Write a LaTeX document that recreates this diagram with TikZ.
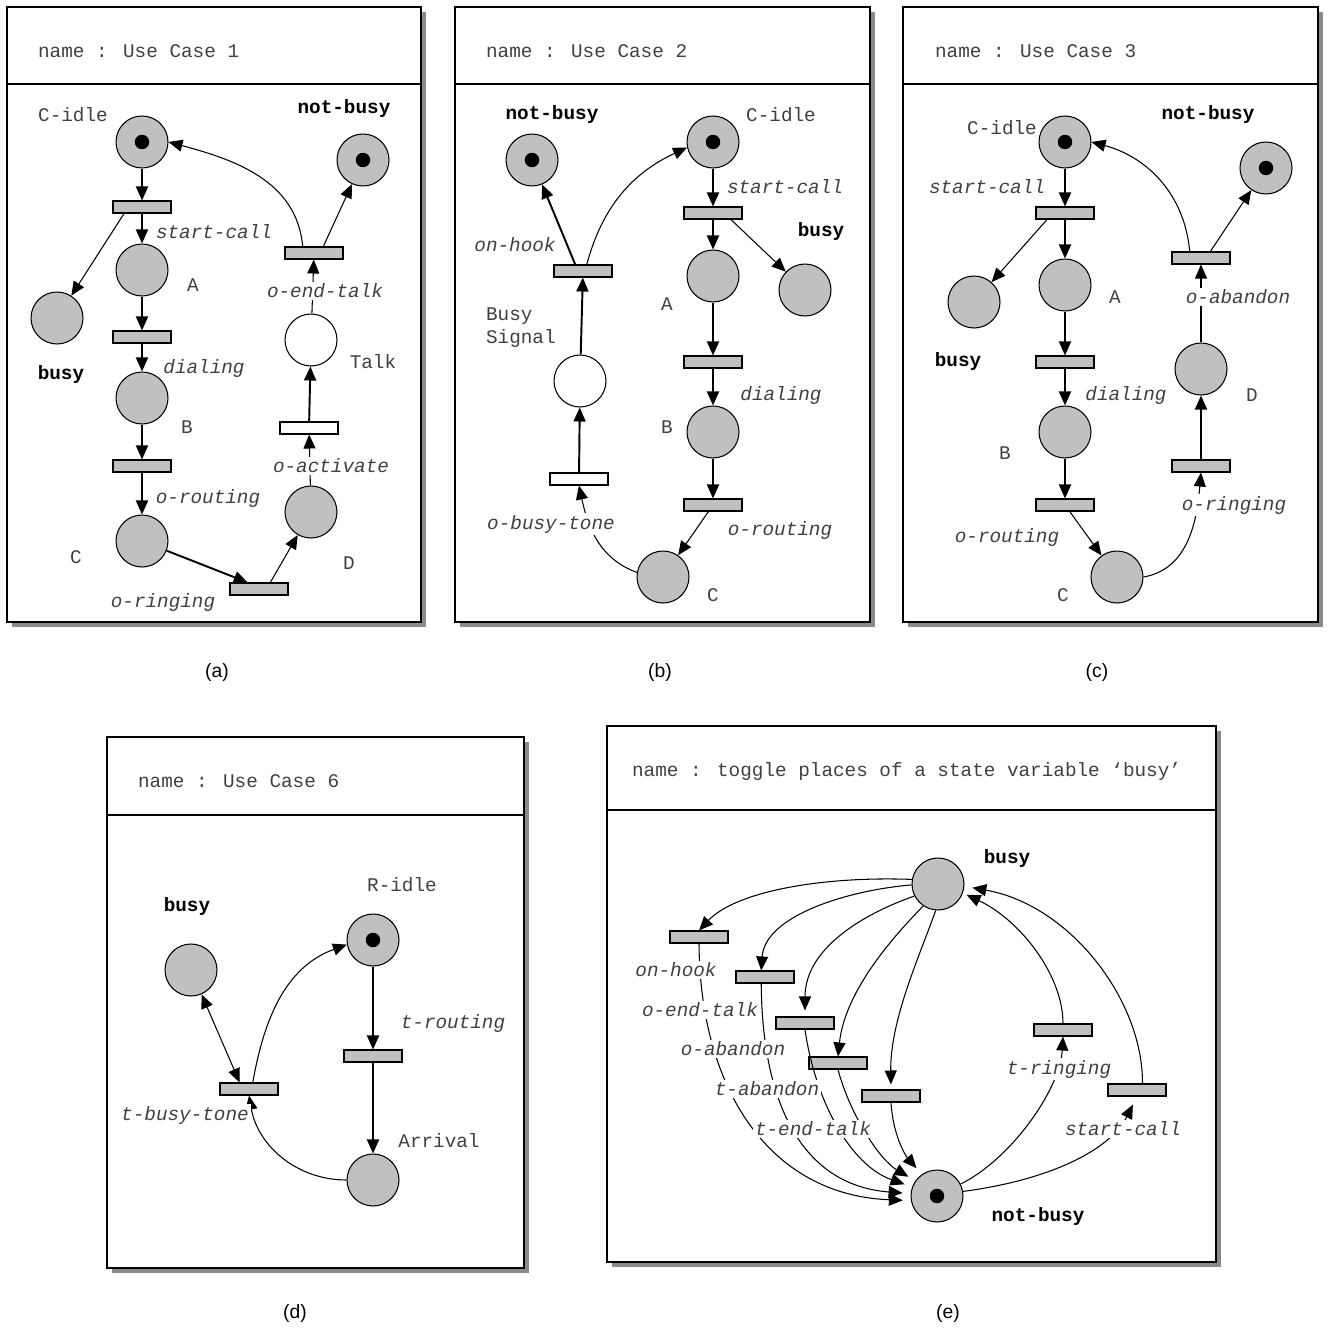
\documentclass[tikz,border=0pt]{standalone}
\usepackage{fontspec}
\setmainfont{Liberation Mono}
\newfontfamily\capfont{Liberation Sans}
\usetikzlibrary{arrows.meta, positioning}
\definecolor{placefill}{HTML}{C0C0C0}
\definecolor{shadowcolor}{HTML}{8A8A8A}
\definecolor{labelcolor}{HTML}{404040}

\begin{document}
\begin{tikzpicture}[
    x=0.02cm, y=-0.02cm,
    >={Triangle[length=2.8mm, width=2.4mm]},
    font=\fontsize{11}{13}\selectfont,
    place/.style={circle, draw=black, line width=0.6pt, fill=placefill, minimum size=10.4mm, inner sep=0pt},
    emptyplace/.style={place, fill=white},
    marked/.style={place, path picture={\fill[black] (path picture bounding box.center) circle (1.45mm);}},
    trans/.style={rectangle, draw=black, line width=0.6pt, fill=placefill, minimum width=11.6mm, minimum height=2.4mm, inner sep=0pt},
    emptytrans/.style={trans, fill=white},
    link/.style={->, line width=0.6pt},
    boldlink/.style={->, line width=1.1pt},
    txt/.style={text=labelcolor, inner sep=1pt},
    lbl/.style={fill=white, text=labelcolor, inner sep=1pt, font=\fontsize{11}{13}\selectfont\itshape},
    heavy/.style={text=black, inner sep=1pt, font=\fontsize{11}{13}\selectfont\bfseries},
    panel/.style={draw=black, line width=1.3pt, fill=white},
    caption/.style={font=\capfont\fontsize{11}{13}\selectfont}
]
    \useasboundingbox (0,0) rectangle (1329,1328);

    % (a) Use Case 1
    \fill[shadowcolor] (12,12) rectangle (426,627);
    \draw[panel] (7,7) rectangle (421,622);
    \draw[line width=1.3pt] (7,84) -- (421,84);
    \node[txt, anchor=west] (aTitle) at (36,51) {name : Use Case 1};

    \node[marked] (aCidle) at (142,142) {};
    \node[marked] (aNotbusy) at (363,160) {};
    \node[trans] (aStart) at (142,207) {};
    \node[place] (aBusy) at (57,318) {};
    \node[place] (aA) at (142,270) {};
    \node[trans] (aDial) at (142,337) {};
    \node[place] (aB) at (142,398) {};
    \node[trans] (aRoute) at (142,466) {};
    \node[place] (aC) at (142,541) {};
    \node[trans] (aRing) at (259,589) {};
    \node[place] (aD) at (311,512) {};
    \node[emptytrans] (aActivate) at (309,428) {};
    \node[emptyplace] (aTalk) at (311,340) {};
    \node[trans] (aEnd) at (314,253) {};

    \draw[boldlink] (aCidle) -- (aStart);
    \draw[boldlink] (aStart) -- (aA);
    \draw[link] (aStart.200) -- (aBusy);
    \draw[boldlink] (aA) -- (aDial);
    \draw[boldlink] (aDial) -- (aB);
    \draw[boldlink] (aB) -- (aRoute);
    \draw[boldlink] (aRoute) -- (aC);
    \draw[boldlink] (aC) -- (aRing.150);
    \draw[link] (aRing.30) -- (aD);
    \draw[link] (aD) -- (aActivate);
    \draw[boldlink] (aActivate) -- (aTalk);
    \draw[link] (aTalk) -- (aEnd);
    \draw[link] (aEnd.150) to[out=95, in=-15] (aCidle.0);
    \draw[link] (aEnd.35) -- (aNotbusy);

    \node[txt] (aCidleLbl) at (73,115) {C-idle};
    \node[heavy] (aNotbusyLbl) at (344,109) {not-busy};
    \node[lbl] (aStartLbl) at (214,232) {start-call};
    \node[txt] (aALbl) at (193,285) {A};
    \node[heavy] (aBusyLbl) at (61,375) {busy};
    \node[lbl] (aDialLbl) at (204,368) {dialing};
    \node[txt] (aBLbl) at (187,427) {B};
    \node[lbl] (aRouteLbl) at (208,498) {o-routing};
    \node[txt] (aCLbl) at (76,557) {C};
    \node[lbl] (aRingLbl) at (163,602) {o-ringing};
    \node[txt] (aDLbl) at (349,563) {D};
    \node[lbl] (aActivateLbl) at (331,466) {o-activate};
    \node[txt] (aTalkLbl) at (373,362) {Talk};
    \node[lbl] (aEndLbl) at (325,291) {o-end-talk};
    \node[caption] (aCap) at (217,672) {(a)};

    % (b) Use Case 2
    \fill[shadowcolor] (460,12) rectangle (875,627);
    \draw[panel] (455,7) rectangle (870,622);
    \draw[line width=1.3pt] (455,84) -- (870,84);
    \node[txt, anchor=west] (bTitle) at (484,51) {name : Use Case 2};

    \node[marked] (bNotbusy) at (532,160) {};
    \node[marked] (bCidle) at (713,142) {};
    \node[trans] (bStart) at (713,213) {};
    \node[place] (bBusy) at (805,290) {};
    \node[place] (bA) at (713,276) {};
    \node[trans] (bDial) at (713,362) {};
    \node[place] (bB) at (713,432) {};
    \node[trans] (bRoute) at (713,505) {};
    \node[place] (bC) at (663,577) {};
    \node[trans] (bHook) at (583,271) {};
    \node[emptyplace] (bSignal) at (580,381) {};
    \node[emptytrans] (bTone) at (579,479) {};

    \draw[boldlink] (bCidle) -- (bStart);
    \draw[boldlink] (bStart) -- (bA);
    \draw[link] (bStart.-20) -- (bBusy);
    \draw[boldlink] (bA) -- (bDial);
    \draw[boldlink] (bDial) -- (bB);
    \draw[boldlink] (bB) -- (bRoute);
    \draw[link] (bRoute) -- (bC);
    \draw[link] (bC.170) to[out=160, in=-78] (bTone.south);
    \draw[boldlink] (bTone) -- (bSignal);
    \draw[boldlink] (bSignal) -- (bHook);
    \draw[boldlink] (bHook.140) -- (bNotbusy);
    \draw[link] (bHook.60) to[out=75, in=205] (bCidle.192);

    \node[heavy] (bNotbusyLbl) at (552,115) {not-busy};
    \node[txt] (bCidleLbl) at (781,115) {C-idle};
    \node[lbl] (bStartLbl) at (785,187) {start-call};
    \node[heavy] (bBusyLbl) at (821,232) {busy};
    \node[lbl] (bHookLbl) at (515,245) {on-hook};
    \node[txt] (bALbl) at (667,304) {A};
    \node[txt, align=left, anchor=west] (bSignalLbl) at (484,328) {Busy\\Signal};
    \node[lbl] (bDialLbl) at (781,395) {dialing};
    \node[txt] (bBLbl) at (667,427) {B};
    \node[lbl] (bRouteLbl) at (780,530) {o-routing};
    \node[lbl] (bToneLbl) at (551,524) {o-busy-tone};
    \node[txt] (bCLbl) at (713,595) {C};
    \node[caption] (bCap) at (660,672) {(b)};

    % (c) Use Case 3
    \fill[shadowcolor] (908,12) rectangle (1323,627);
    \draw[panel] (903,7) rectangle (1318,622);
    \draw[line width=1.3pt] (903,84) -- (1318,84);
    \node[txt, anchor=west] (cTitle) at (933,51) {name : Use Case 3};

    \node[marked] (cCidle) at (1065,142) {};
    \node[marked] (cNotbusy) at (1266,168) {};
    \node[trans] (cStart) at (1065,213) {};
    \node[place] (cBusy) at (974,302) {};
    \node[place] (cA) at (1065,285) {};
    \node[trans] (cDial) at (1065,362) {};
    \node[place] (cB) at (1065,432) {};
    \node[trans] (cRoute) at (1065,505) {};
    \node[place] (cC) at (1117,577) {};
    \node[trans] (cRing) at (1201,466) {};
    \node[place] (cD) at (1201,369) {};
    \node[trans] (cAbandon) at (1201,258) {};

    \draw[boldlink] (cCidle) -- (cStart);
    \draw[boldlink] (cStart) -- (cA);
    \draw[link] (cStart.200) -- (cBusy);
    \draw[boldlink] (cA) -- (cDial);
    \draw[boldlink] (cDial) -- (cB);
    \draw[boldlink] (cB) -- (cRoute);
    \draw[link] (cRoute) -- (cC);
    \draw[link] (cC.east) to[out=10, in=-95] (cRing.south);
    \draw[boldlink] (cRing) -- (cD);
    \draw[link] (cD) -- (cAbandon);
    \draw[link] (cAbandon.150) to[out=95, in=-15] (cCidle.0);
    \draw[link] (cAbandon.35) -- (cNotbusy);

    \node[txt] (cCidleLbl) at (1002,128) {C-idle};
    \node[heavy] (cNotbusyLbl) at (1208,115) {not-busy};
    \node[lbl] (cStartLbl) at (987,187) {start-call};
    \node[txt] (cALbl) at (1115,297) {A};
    \node[heavy] (cBusyLbl) at (958,362) {busy};
    \node[lbl] (cDialLbl) at (1126,395) {dialing};
    \node[txt] (cBLbl) at (1005,453) {B};
    \node[lbl] (cRouteLbl) at (1007,537) {o-routing};
    \node[txt] (cCLbl) at (1063,595) {C};
    \node[lbl] (cRingLbl) at (1234,505) {o-ringing};
    \node[txt] (cDLbl) at (1252,395) {D};
    \node[lbl] (cAbandonLbl) at (1238,297) {o-abandon};
    \node[caption] (cCap) at (1097,672) {(c)};

    % (d) Use Case 6
    \fill[shadowcolor] (112,742) rectangle (529,1273);
    \draw[panel] (107,737) rectangle (524,1268);
    \draw[line width=1.3pt] (107,815) -- (524,815);
    \node[txt, anchor=west] (dTitle) at (136,781) {name : Use Case 6};

    \node[place] (dBusy) at (191,970) {};
    \node[marked] (dRidle) at (373,940) {};
    \node[trans] (dRoute) at (373,1056) {};
    \node[place] (dArrival) at (373,1180) {};
    \node[trans] (dTone) at (249,1089) {};

    \draw[link, <->] (dBusy) -- (dTone.145);
    \draw[link] (dTone.60) to[out=80, in=200] (dRidle.190);
    \draw[boldlink] (dRidle) -- (dRoute);
    \draw[boldlink] (dRoute) -- (dArrival);
    \draw[link] (dArrival.west) to[out=180, in=-80] (dTone.south);

    \node[heavy] (dBusyLbl) at (187,906) {busy};
    \node[txt] (dRidleLbl) at (402,885) {R-idle};
    \node[lbl] (dRouteLbl) at (453,1023) {t-routing};
    \node[txt] (dArrivalLbl) at (439,1141) {Arrival};
    \node[lbl] (dToneLbl) at (185,1115) {t-busy-tone};
    \node[caption] (dCap) at (295,1313) {(d)};

    % (e) toggle places of 'busy'
    \fill[shadowcolor] (612,731) rectangle (1221,1267);
    \draw[panel] (607,726) rectangle (1216,1262);
    \draw[line width=1.3pt] (607,810) -- (1216,810);
    \node[txt, anchor=west] (eTitle) at (630,771) {name : toggle places of a state variable ‘busy’};

    \node[place] (eBusy) at (938,884) {};
    \node[marked] (eNotbusy) at (937,1196) {};
    \node[trans] (eHook) at (699,937) {};
    \node[trans] (eEndTalk) at (765,977) {};
    \node[trans] (eOAbandon) at (805,1023) {};
    \node[trans] (eTAbandon) at (838,1063) {};
    \node[trans] (eTEnd) at (891,1096) {};
    \node[trans] (eRing) at (1063,1030) {};
    \node[trans] (eStart) at (1137,1090) {};

    % busy -> outgoing transitions
    \draw[link] (eBusy.170) .. controls (820,876) and (735,892) .. (eHook.north);
    \draw[link] (eBusy.182) .. controls (850,890) and (765,915) .. (eEndTalk.120);
    \draw[link, shorten >=1.2mm] (eBusy.207) .. controls (860,915) and (805,950) .. (eOAbandon.north);
    \draw[link] (eBusy.236) .. controls (895,935) and (845,990) .. (eTAbandon.north);
    \draw[link, shorten >=1mm] (eBusy.265) .. controls (920,955) and (890,1020) .. (eTEnd.north);

    % transitions -> not-busy
    \draw[link, shorten >=1.6mm] (eHook.south) .. controls (700,1090) and (770,1195) .. (eNotbusy.190);
    \draw[link, shorten >=1.6mm] (eEndTalk.240) .. controls (762,1100) and (800,1185) .. (eNotbusy.175);
    \draw[link, shorten >=1.6mm] (eOAbandon.south) .. controls (815,1100) and (850,1165) .. (eNotbusy.160);
    \draw[link, shorten >=1.6mm] (eTAbandon.south) .. controls (850,1115) and (880,1160) .. (eNotbusy.145);
    \draw[link, shorten >=1.6mm] (eTEnd.south) .. controls (893,1135) and (905,1155) .. (eNotbusy.125);

    % not-busy -> busy
    \draw[link] (eNotbusy.27) .. controls (1010,1160) and (1060,1090) .. (eRing.south);
    \draw[link, shorten >=0.8mm] (eRing.north) .. controls (1063,975) and (1020,920) .. (eBusy.-20);
    \draw[link, shorten >=1.8mm] (eNotbusy.10) .. controls (1050,1180) and (1110,1150) .. (eStart.south);
    \draw[link, shorten >=1.6mm] (eStart.50) .. controls (1143,1000) and (1070,905) .. (eBusy.-5);

    \node[heavy] (eBusyLbl) at (1007,858) {busy};
    \node[heavy] (eNotbusyLbl) at (1038,1216) {not-busy};
    \node[lbl] (eHookLbl) at (676,970) {on-hook};
    \node[lbl] (eEndTalkLbl) at (700,1010) {o-end-talk};
    \node[lbl] (eOAbandonLbl) at (733,1049) {o-abandon};
    \node[lbl] (eTAbandonLbl) at (767,1089) {t-abandon};
    \node[lbl] (eTEndLbl) at (813,1129) {t-end-talk};
    \node[lbl] (eRingLbl) at (1059,1069) {t-ringing};
    \node[lbl] (eStartLbl) at (1123,1129) {start-call};
    \node[caption] (eCap) at (948,1313) {(e)};

\end{tikzpicture}
\end{document}
